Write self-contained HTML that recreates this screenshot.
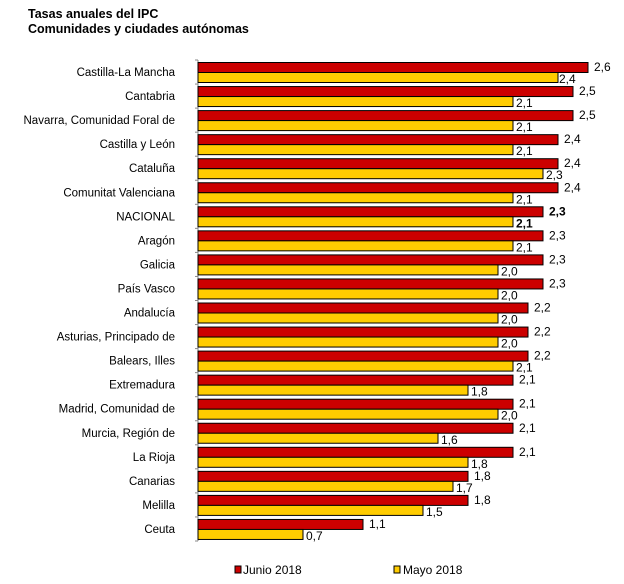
<!DOCTYPE html><html><head><meta charset="utf-8"><style>body{margin:0;background:#fff}svg{display:block}text{font-family:"Liberation Sans",sans-serif;font-size:12px}.r{fill:#cc0000;stroke:#000}.y{fill:#ffcc00;stroke:#000}.l{text-anchor:end;font-size:11.5px}</style></head><body>
<svg width="624" height="584" xmlns="http://www.w3.org/2000/svg">
<text x="28" y="18" style="font-size:12.5px;font-weight:bold">Tasas anuales del IPC</text>
<text x="28" y="33" style="font-size:12.5px;font-weight:bold">Comunidades y ciudades autónomas</text>
<line x1="198" y1="60" x2="198" y2="541" stroke="#888"/>
<g transform="translate(0,60)"><line x1="195" x2="198" stroke="#888"/><text class="l" x="175" y="16">Castilla-La Mancha</text><rect class="r" x="198" y="2.5" width="390" height="10"/><rect class="y" x="198" y="12.5" width="360" height="10"/><text x="594" y="11">2,6</text><text x="559" y="23">2,4</text></g>
<g transform="translate(0,84.05)"><line x1="195" x2="198" stroke="#888"/><text class="l" x="175" y="16">Cantabria</text><rect class="r" x="198" y="2.5" width="375" height="10"/><rect class="y" x="198" y="12.5" width="315" height="10"/><text x="579" y="11">2,5</text><text x="516" y="23">2,1</text></g>
<g transform="translate(0,108.1)"><line x1="195" x2="198" stroke="#888"/><text class="l" x="175" y="16">Navarra, Comunidad Foral de</text><rect class="r" x="198" y="2.5" width="375" height="10"/><rect class="y" x="198" y="12.5" width="315" height="10"/><text x="579" y="11">2,5</text><text x="516" y="23">2,1</text></g>
<g transform="translate(0,132.15)"><line x1="195" x2="198" stroke="#888"/><text class="l" x="175" y="16">Castilla y León</text><rect class="r" x="198" y="2.5" width="360" height="10"/><rect class="y" x="198" y="12.5" width="315" height="10"/><text x="564" y="11">2,4</text><text x="516" y="23">2,1</text></g>
<g transform="translate(0,156.2)"><line x1="195" x2="198" stroke="#888"/><text class="l" x="175" y="16">Cataluña</text><rect class="r" x="198" y="2.5" width="360" height="10"/><rect class="y" x="198" y="12.5" width="345" height="10"/><text x="564" y="11">2,4</text><text x="546" y="23">2,3</text></g>
<g transform="translate(0,180.25)"><line x1="195" x2="198" stroke="#888"/><text class="l" x="175" y="16">Comunitat Valenciana</text><rect class="r" x="198" y="2.5" width="360" height="10"/><rect class="y" x="198" y="12.5" width="315" height="10"/><text x="564" y="11">2,4</text><text x="516" y="23">2,1</text></g>
<g transform="translate(0,204.3)"><line x1="195" x2="198" stroke="#888"/><text class="l" x="175" y="16">NACIONAL</text><rect class="r" x="198" y="2.5" width="345" height="10"/><rect class="y" x="198" y="12.5" width="315" height="10"/><text x="549" y="11" font-weight="bold">2,3</text><text x="516" y="23" font-weight="bold">2,1</text></g>
<g transform="translate(0,228.35)"><line x1="195" x2="198" stroke="#888"/><text class="l" x="175" y="16">Aragón</text><rect class="r" x="198" y="2.5" width="345" height="10"/><rect class="y" x="198" y="12.5" width="315" height="10"/><text x="549" y="11">2,3</text><text x="516" y="23">2,1</text></g>
<g transform="translate(0,252.4)"><line x1="195" x2="198" stroke="#888"/><text class="l" x="175" y="16">Galicia</text><rect class="r" x="198" y="2.5" width="345" height="10"/><rect class="y" x="198" y="12.5" width="300" height="10"/><text x="549" y="11">2,3</text><text x="501" y="23">2,0</text></g>
<g transform="translate(0,276.45)"><line x1="195" x2="198" stroke="#888"/><text class="l" x="175" y="16">País Vasco</text><rect class="r" x="198" y="2.5" width="345" height="10"/><rect class="y" x="198" y="12.5" width="300" height="10"/><text x="549" y="11">2,3</text><text x="501" y="23">2,0</text></g>
<g transform="translate(0,300.5)"><line x1="195" x2="198" stroke="#888"/><text class="l" x="175" y="16">Andalucía</text><rect class="r" x="198" y="2.5" width="330" height="10"/><rect class="y" x="198" y="12.5" width="300" height="10"/><text x="534" y="11">2,2</text><text x="501" y="23">2,0</text></g>
<g transform="translate(0,324.55)"><line x1="195" x2="198" stroke="#888"/><text class="l" x="175" y="16">Asturias, Principado de</text><rect class="r" x="198" y="2.5" width="330" height="10"/><rect class="y" x="198" y="12.5" width="300" height="10"/><text x="534" y="11">2,2</text><text x="501" y="23">2,0</text></g>
<g transform="translate(0,348.6)"><line x1="195" x2="198" stroke="#888"/><text class="l" x="175" y="16">Balears, Illes</text><rect class="r" x="198" y="2.5" width="330" height="10"/><rect class="y" x="198" y="12.5" width="315" height="10"/><text x="534" y="11">2,2</text><text x="516" y="23">2,1</text></g>
<g transform="translate(0,372.65)"><line x1="195" x2="198" stroke="#888"/><text class="l" x="175" y="16">Extremadura</text><rect class="r" x="198" y="2.5" width="315" height="10"/><rect class="y" x="198" y="12.5" width="270" height="10"/><text x="519" y="11">2,1</text><text x="471" y="23">1,8</text></g>
<g transform="translate(0,396.7)"><line x1="195" x2="198" stroke="#888"/><text class="l" x="175" y="16">Madrid, Comunidad de</text><rect class="r" x="198" y="2.5" width="315" height="10"/><rect class="y" x="198" y="12.5" width="300" height="10"/><text x="519" y="11">2,1</text><text x="501" y="23">2,0</text></g>
<g transform="translate(0,420.75)"><line x1="195" x2="198" stroke="#888"/><text class="l" x="175" y="16">Murcia, Región de</text><rect class="r" x="198" y="2.5" width="315" height="10"/><rect class="y" x="198" y="12.5" width="240" height="10"/><text x="519" y="11">2,1</text><text x="441" y="23">1,6</text></g>
<g transform="translate(0,444.8)"><line x1="195" x2="198" stroke="#888"/><text class="l" x="175" y="16">La Rioja</text><rect class="r" x="198" y="2.5" width="315" height="10"/><rect class="y" x="198" y="12.5" width="270" height="10"/><text x="519" y="11">2,1</text><text x="471" y="23">1,8</text></g>
<g transform="translate(0,468.85)"><line x1="195" x2="198" stroke="#888"/><text class="l" x="175" y="16">Canarias</text><rect class="r" x="198" y="2.5" width="270" height="10"/><rect class="y" x="198" y="12.5" width="255" height="10"/><text x="474" y="11">1,8</text><text x="456" y="23">1,7</text></g>
<g transform="translate(0,492.9)"><line x1="195" x2="198" stroke="#888"/><text class="l" x="175" y="16">Melilla</text><rect class="r" x="198" y="2.5" width="270" height="10"/><rect class="y" x="198" y="12.5" width="225" height="10"/><text x="474" y="11">1,8</text><text x="426" y="23">1,5</text></g>
<g transform="translate(0,516.95)"><line x1="195" x2="198" stroke="#888"/><text class="l" x="175" y="16">Ceuta</text><rect class="r" x="198" y="2.5" width="165" height="10"/><rect class="y" x="198" y="12.5" width="105" height="10"/><text x="369" y="11">1,1</text><text x="306" y="23">0,7</text></g>
<line x1="195" y1="541" x2="198" y2="541" stroke="#888"/>
<rect class="r" x="235" y="566" width="6" height="7"/><text x="243" y="574">Junio 2018</text>
<rect class="y" x="394" y="566" width="6" height="7"/><text x="403" y="574">Mayo 2018</text>
</svg></body></html>
